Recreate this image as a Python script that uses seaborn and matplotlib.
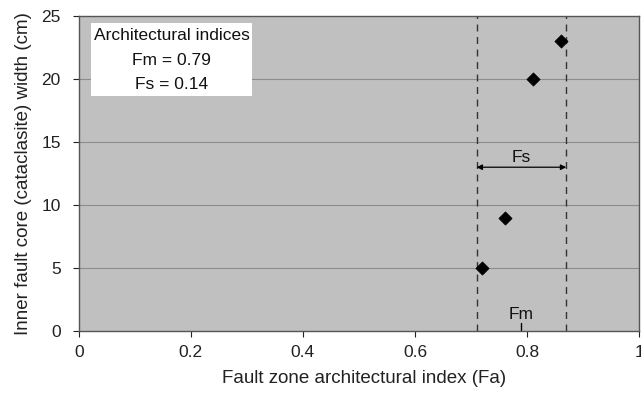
import matplotlib
matplotlib.use("Agg")
import matplotlib.pyplot as plt
from matplotlib.patches import Rectangle
import seaborn as sns
import pandas as pd

fa = [0.72, 0.76, 0.81, 0.86]
width_cm = [5, 9, 20, 23]
fm = 0.79
fs_low, fs_high = 0.71, 0.87
xticks = [0, 0.2, 0.4, 0.6, 0.8, 1]
yticks = [0, 5, 10, 15, 20, 25]
box_lines = ['Architectural indices', 'Fm = 0.79', 'Fs = 0.14']

sns.set_theme(style="white")
plt.rcParams['font.family'] = ['Liberation Sans', 'DejaVu Sans']

fig = plt.figure(figsize=(6.41, 3.93), dpi=100)
ax = fig.add_axes([0.123, 0.158, 0.874, 0.801])
ax.set_facecolor('#c0c0c0')

df = pd.DataFrame({'Fa': fa, 'W': width_cm})
for yv in yticks[1:-1]:
    ax.axhline(yv, color='#8c8c8c', lw=0.8, zorder=1)
ax.axvline(fs_low, color='#333333', lw=1.0, ls=(0, (5, 4)), zorder=2)
ax.axvline(fs_high, color='#333333', lw=1.0, ls=(0, (5, 4)), zorder=2)
sns.scatterplot(data=df, x='Fa', y='W', marker='D', color='black', s=45,
                edgecolor='black', ax=ax, zorder=5)

ax.annotate('', xy=(fs_low, 13), xytext=(fs_high, 13),
            arrowprops=dict(arrowstyle='<|-|>', color='black', lw=0.9,
                            mutation_scale=8, shrinkA=0, shrinkB=0))
ax.text((fs_low + fs_high) / 2, 13.2, 'Fs', ha='center', va='bottom', fontsize=12.5, color='#111111')
ax.plot([fm, fm], [0, 0.6], color='black', lw=1.0)
ax.text(fm, 0.7, 'Fm', ha='center', va='bottom', fontsize=12.5, color='#111111')

ax.add_patch(Rectangle((0.0214, 0.746), 0.288, 0.232, transform=ax.transAxes,
                       fc='white', ec='none', zorder=6))
for txt, yy in zip(box_lines, [0.937, 0.860, 0.784]):
    ax.text(0.166, yy, txt, transform=ax.transAxes, ha='center', va='center',
            fontsize=12.5, color='#111111', zorder=7)

ax.set_xlim(0, 1)
ax.set_ylim(0, 25)
ax.set_xticks(xticks)
ax.set_xticklabels(['0', '0.2', '0.4', '0.6', '0.8', '1'])
ax.set_yticks(yticks)
ax.tick_params(axis='both', labelsize=12.5, colors='#222222', length=4, width=0.8,
               direction='out', bottom=True, left=True)
ax.tick_params(axis='x', pad=6)
ax.tick_params(axis='y', pad=9)
ax.set_xlabel('Fault zone architectural index (Fa)', fontsize=13.5, color='#222222', labelpad=5)
ax.xaxis.set_label_coords(0.51, -0.125)
ax.set_ylabel('Inner fault core (cataclasite) width (cm)', fontsize=13.5, color='#222222', labelpad=7)
for sp in ax.spines.values():
    sp.set_color('#555555')
    sp.set_linewidth(1.0)

fig.savefig('out.png', dpi=100)
